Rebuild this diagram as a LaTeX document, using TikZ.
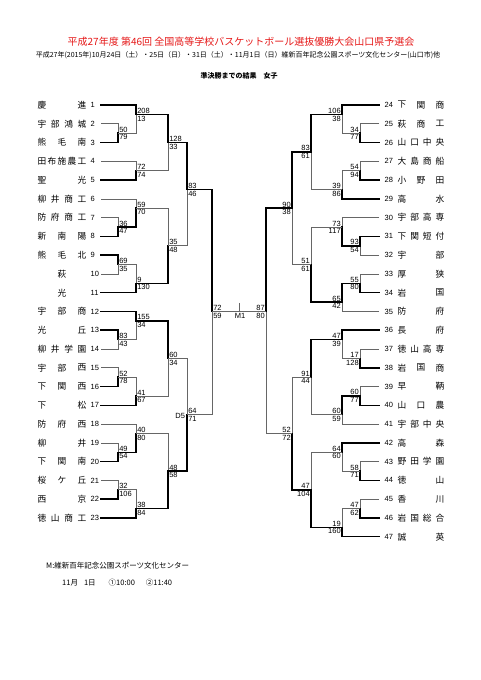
\documentclass[tikz,border=0pt]{standalone}
\usepackage{fontspec}
\setmainfont{Liberation Sans}
\newfontfamily\jp{Noto Sans CJK JP}
\definecolor{titlered}{RGB}{230,25,25}
\tikzset{
 win/.style={line width=1.5pt, black, line cap=rect},
 lose/.style={line width=0.6pt, black!60},
 sc/.style={font=\fontsize{7.5}{8}\selectfont, inner sep=0.3pt},
 num/.style={font=\fontsize{7.5}{8}\selectfont, inner sep=0pt},
 nm/.style={font=\jp\fontsize{8.7}{10}\selectfont, inner sep=0pt},
 small/.style={font=\jp\fontsize{7}{8}\selectfont, inner sep=0pt},
}
% left match: #1 x, #2 kTop, #3 xTop-start, #4 kBot, #5 xBot-start, #6 kOut, #7 winner(1/2), #8 #9 scores
\newcommand\LM[9]{%
  \ifnum#7=1\relax
    \draw[lose] (#5,{ry(#4)}) -- (#1,{ry(#4)}) -- (#1,{ry(#6)});
    \draw[win] (#3,{ry(#2)}) -- (#1,{ry(#2)}) -- (#1,{ry(#6)});
  \else
    \draw[lose] (#3,{ry(#2)}) -- (#1,{ry(#2)}) -- (#1,{ry(#6)});
    \draw[win] (#5,{ry(#4)}) -- (#1,{ry(#4)}) -- (#1,{ry(#6)});
  \fi
  \node[sc,anchor=south west] at (#1+0.8,{ry(#6)-0.4}) {#8};
  \node[sc,anchor=north west] at (#1+0.8,{ry(#6)+0.9}) {#9};
}
\newcommand\RM[9]{%
  \ifnum#7=1\relax
    \draw[lose] (#5,{ry(#4)}) -- (#1,{ry(#4)}) -- (#1,{ry(#6)});
    \draw[win] (#3,{ry(#2)}) -- (#1,{ry(#2)}) -- (#1,{ry(#6)});
  \else
    \draw[lose] (#3,{ry(#2)}) -- (#1,{ry(#2)}) -- (#1,{ry(#6)});
    \draw[win] (#5,{ry(#4)}) -- (#1,{ry(#4)}) -- (#1,{ry(#6)});
  \fi
  \node[sc,anchor=south east] at (#1-0.8,{ry(#6)-0.4}) {#8};
  \node[sc,anchor=north east] at (#1-0.8,{ry(#6)+0.9}) {#9};
}
% distributed name: #1 first centre, #2 last centre, #3 k, #4 chars
\newcommand\tname[4]{%
  \gdef\nn{0}%
  \foreach \ch in {#4}{\xdef\nn{\the\numexpr\nn+1\relax}}%
  \foreach \ch [count=\i from 0] in {#4}{%
    \ifnum\nn=1\relax
      \node[nm] at ({(#1+#2)/2},{ry(#3)}) {\ch};
    \else
      \node[nm] at ({#1+\i*(#2-#1)/(\nn-1)},{ry(#3)}) {\ch};
    \fi
  }%
}
\newcommand\TL[3]{\node[num,anchor=west] (t#1) at (90.5,{ry(#2)}) {#1};\tname{42}{82}{#2}{#3}}
\newcommand\TR[3]{\node[num,anchor=west] (t#1) at (384.5,{ry(#2)}) {#1};\tname{402}{440}{#2}{#3}}
\begin{document}
\begin{tikzpicture}[x=1pt,y=-1pt,declare function={ry(\k)=105+9.385*\k;}]
\useasboundingbox[fill=white] (0,0) rectangle (481,680);
% headings
\node[font=\jp\fontsize{10}{12}\selectfont, text=titlered, inner sep=0pt] (title) at (241,41.5)
  {平成27年度 第46回 全国高等学校バスケットボール選抜優勝大会山口県予選会};
\node[small] (sub) at (238,55.5)
  {平成27年(2015年)10月24日（土）・25日（日）・31日（土）・11月1日（日）維新百年記念公園スポーツ文化センター(山口市)他};
\node[small,font=\jp\bfseries\fontsize{7}{8}\selectfont] (head) at (239,75.5) {準決勝までの結果　女子};
% left teams
\TL{1}{0}{慶,進}
\TL{2}{2}{宇,部,鴻,城}
\TL{3}{4}{熊,毛,南}
\TL{4}{6}{田,布,施,農,工}
\TL{5}{8}{聖,光}
\TL{6}{10}{柳,井,商,工}
\TL{7}{12}{防,府,商,工}
\TL{8}{14}{新,南,陽}
\TL{9}{16}{熊,毛,北}
\TL{10}{18}{萩}
\TL{11}{20}{光}
\TL{12}{22}{宇,部,商}
\TL{13}{24}{光,丘}
\TL{14}{26}{柳,井,学,園}
\TL{15}{28}{宇,部,西}
\TL{16}{30}{下,関,西}
\TL{17}{32}{下,松}
\TL{18}{34}{防,府,西}
\TL{19}{36}{柳,井}
\TL{20}{38}{下,関,南}
\TL{21}{40}{桜,ケ,丘}
\TL{22}{42}{西,京}
\TL{23}{44}{徳,山,商,工}
% right teams
\TR{24}{0}{下,関,商}
\TR{25}{2}{萩,商,工}
\TR{26}{4}{山,口,中,央}
\TR{27}{6}{大,島,商,船}
\TR{28}{8}{小,野,田}
\TR{29}{10}{高,水}
\TR{30}{12}{宇,部,高,専}
\TR{31}{14}{下,関,短,付}
\TR{32}{16}{宇,部}
\TR{33}{18}{厚,狭}
\TR{34}{20}{岩,国}
\TR{35}{22}{防,府}
\TR{36}{24}{長,府}
\TR{37}{26}{徳,山,高,専}
\TR{38}{28}{岩,国,商}
\TR{39}{30}{早,鞆}
\TR{40}{32}{山,口,農}
\TR{41}{34}{宇,部,中,央}
\TR{42}{36}{高,森}
\TR{43}{38}{野,田,学,園}
\TR{44}{40}{徳,山}
\TR{45}{42}{香,川}
\TR{46}{44}{岩,国,総,合}
\TR{47}{46}{誠,英}
% left bracket
\LM{118}{2}{101}{4}{101}{3}{2}{50}{79}
\LM{136}{0}{101}{3}{118}{1}{1}{208}{13}
\LM{136}{6}{101}{8}{101}{7}{2}{72}{74}
\LM{168}{1}{136}{7}{136}{4}{1}{128}{33}
\LM{118}{12}{101}{14}{101}{13}{2}{36}{47}
\LM{136}{10}{101}{13}{118}{11}{2}{59}{70}
\LM{118}{16}{101}{18}{101}{17}{1}{69}{35}
\LM{136}{17}{118}{20}{101}{19}{2}{9}{130}
\LM{168}{11}{136}{19}{136}{15}{2}{35}{48}
\LM{187}{4}{168}{15}{168}{9}{1}{83}{46}
\LM{118}{24}{101}{26}{101}{25}{1}{83}{43}
\LM{136}{22}{101}{25}{118}{23}{1}{155}{34}
\LM{118}{28}{101}{30}{101}{29}{2}{52}{78}
\LM{136}{29}{118}{32}{101}{31}{2}{41}{67}
\LM{168}{23}{136}{31}{136}{27}{1}{60}{34}
\LM{118}{36}{101}{38}{101}{37}{2}{49}{54}
\LM{136}{34}{101}{37}{118}{35}{2}{40}{80}
\LM{118}{40}{101}{42}{101}{41}{2}{32}{106}
\LM{136}{41}{118}{44}{101}{43}{2}{38}{84}
\LM{168}{35}{136}{43}{136}{39}{2}{48}{58}
\LM{187}{27}{168}{39}{168}{33}{2}{64}{71}
\LM{212}{9}{187}{33}{187}{22}{1}{72}{59}
% right bracket
\RM{360}{2}{379}{4}{379}{3}{2}{34}{77}
\RM{342}{0}{379}{3}{360}{1}{1}{106}{38}
\RM{360}{6}{379}{8}{379}{7}{2}{54}{94}
\RM{342}{7}{360}{10}{379}{9}{2}{39}{86}
\RM{311}{1}{342}{9}{342}{5}{1}{83}{61}
\RM{360}{14}{379}{16}{379}{15}{1}{93}{54}
\RM{342}{12}{379}{15}{360}{13}{2}{73}{117}
\RM{360}{18}{379}{20}{379}{19}{2}{55}{80}
\RM{342}{19}{360}{22}{379}{21}{1}{65}{42}
\RM{311}{13}{342}{21}{342}{17}{2}{51}{61}
\RM{292}{5}{311}{17}{311}{11}{1}{90}{38}
\RM{360}{26}{379}{28}{379}{27}{2}{17}{128}
\RM{342}{24}{379}{27}{360}{25}{1}{47}{39}
\RM{360}{30}{379}{32}{379}{31}{2}{60}{77}
\RM{342}{31}{360}{34}{379}{33}{1}{60}{59}
\RM{311}{25}{342}{33}{342}{29}{1}{91}{44}
\RM{360}{38}{379}{40}{379}{39}{2}{58}{71}
\RM{342}{36}{379}{39}{360}{37}{1}{64}{60}
\RM{360}{42}{379}{44}{379}{43}{2}{47}{62}
\RM{342}{43}{360}{46}{379}{45}{2}{19}{160}
\RM{311}{37}{342}{45}{342}{41}{2}{47}{104}
\RM{292}{29}{311}{41}{311}{35}{2}{52}{72}
\RM{266}{11}{292}{35}{292}{22}{1}{87}{80}
% centre
\coordinate (fl) at (212,{ry(22)});
\coordinate (fr) at (266,{ry(22)});
\coordinate (tk) at (239,{ry(22)-8.5});
\draw[lose] (fl) -- (fr);
\draw[lose] (tk) -- (tk |- fl);
\node[sc,anchor=north] (m1) at (240,{ry(22)+1}) {M1};
\node[sc,anchor=east] (d5) at (185.5,{ry(33)+1.5}) {D5};
% footer
\node[small,font=\jp\fontsize{7.5}{8}\selectfont,anchor=west] (venue) at (46,566) {M:維新百年記念公園スポーツ文化センター};
\node[small,font=\jp\fontsize{7.5}{8}\selectfont,anchor=west] (time) at (62,583) {11月\hspace{6pt}1日\hspace{13pt}①10:00\hspace{11pt}②11:40};
\end{tikzpicture}
\end{document}
